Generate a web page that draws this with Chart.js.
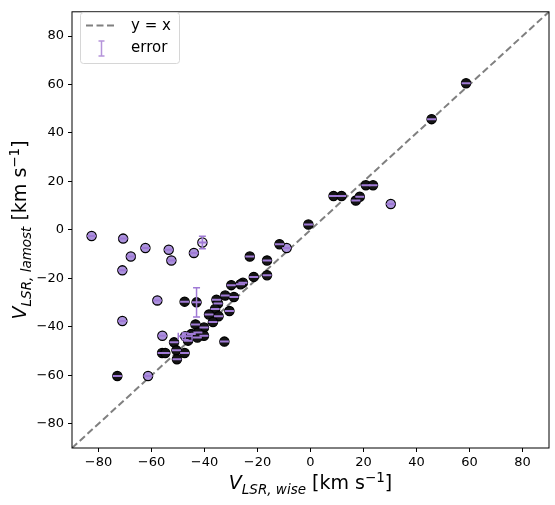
<!DOCTYPE html>
<html>
<head>
<meta charset="utf-8">
<script src="https://cdn.jsdelivr.net/npm/chart.js@4"></script>
<style>
  html, body { margin: 0; padding: 0; background: #fff; }
  #wrap { width: 555px; height: 505px; }
</style>
</head>
<body>
<div id="wrap"><canvas id="chart"></canvas></div>
<script>
// velocities (km/s)
const vWise = [
  -82.6, -70.7, -40.8, -67.8, -62.3, -53.5, -52.5, -44.0, -71.0, -57.8,
  -71.0, -55.9, -61.3, 30.3, -9.0, -47.3,
  -72.9, -47.5, -43.0, -22.9, -16.4, -21.4, -16.4, -25.5, -26.4, -29.9,
  -32.2, -28.9, -35.5, -34.9, -36.0, -38.3, -34.7, -30.6, -36.8, -43.4,
  -40.2, -42.5, -45.0, -40.2, -42.7, -46.2, -32.5, -51.5, -50.6, -56.0,
  -54.8, -47.5, -50.4, -11.7, -0.8, 8.7, 11.7, 17.1, 18.6, 20.9,
  23.6, 45.7, 58.7
];
const vLamost = [
  -2.5, -3.6, -5.2, -11.0, -7.5, -8.2, -12.6, -9.5, -16.7, -29.1,
  -37.6, -43.7, -60.3, 10.7, -7.5, -43.9,
  -60.3, -29.6, -29.9, -11.0, -12.6, -19.4, -18.7, -21.8, -22.4, -22.8,
  -27.1, -27.7, -28.8, -30.4, -32.6, -34.9, -35.6, -33.5, -38.0, -39.0,
  -40.3, -42.3, -43.0, -43.7, -44.4, -45.7, -46.1, -46.4, -49.7, -50.8,
  -50.8, -50.8, -53.4, -5.9, 2.2, 14.0, 14.0, 12.1, 13.7, 18.4,
  18.4, 45.7, 60.5
];
const errWise = [
  1.7, 1.7, 1.7, 1.7, 1.7, 1.7, 1.7, 1.7, 1.7, 1.7,
  1.7, 1.7, 1.7, 1.7, 1.7, 2.6,
  1.7, 1.7, 1.7, 1.7, 1.7, 1.7, 1.7, 1.7, 1.7, 1.7,
  1.7, 1.7, 1.7, 1.7, 1.7, 1.7, 1.7, 1.7, 1.7, 1.7,
  1.7, 1.7, 1.7, 1.7, 1.7, 1.7, 1.7, 1.7, 1.7, 1.7,
  1.7, 1.7, 1.7, 1.7, 1.7, 1.7, 1.7, 1.7, 1.7, 1.7,
  1.7, 1.7, 1.7
];
const errLamost = [
  0, 0, 2.6, 0, 0, 0, 0, 0, 0, 0,
  0, 0, 0, 0, 0, 1.4,
  0, 0, 6.0, 0, 0, 0, 0, 0, 0, 0,
  0, 0, 0, 0, 0, 0, 0, 0, 0, 0,
  0, 0, 0, 0, 0, 0, 0, 0, 0, 0,
  0, 0, 0, 0, 0, 0, 0, 0, 0, 0,
  0, 0, 0
];
// 0 = dark marker, 1 = purple marker, 2 = pale marker
const shade = [
  1, 1, 2, 1, 1, 1, 1, 1, 1, 1,
  1, 1, 1, 1, 1, 1,
  0, 0, 0, 0, 0, 0, 0, 0, 0, 0,
  0, 0, 0, 0, 0, 0, 0, 0, 0, 0,
  0, 0, 0, 0, 0, 0, 0, 0, 0, 0,
  0, 0, 0, 0, 0, 0, 0, 0, 0, 0,
  0, 0, 0
];
const diagX = [-90, 90];
const diagY = [-90, 90];
const xTicks = [-80, -60, -40, -20, 0, 20, 40, 60, 80];
const yTicks = [-80, -60, -40, -20, 0, 20, 40, 60, 80];

const shadeColors = ['#141414', '#ab92dc', '#e4daf2'];
const errColor = '#a07ad6';
const FONT = '"DejaVu Sans", sans-serif';

const points = vWise.map((x, i) => ({ x: x, y: vLamost[i] }));
const diag = diagX.map((x, i) => ({ x: x, y: diagY[i] }));

function fmt(v) {
  return String(v).replace('-', '\u2212');
}

// draw V_{sub} [km s^{-1}] centred on (0,0)
function drawMathLabel(ctx, sub) {
  const parts = [
    { t: 'V', size: 19, italic: true, dy: 0 },
    { t: sub, size: 13.5, italic: true, dy: 4.5 },
    { t: ' [km s', size: 19, italic: false, dy: 0 },
    { t: '\u22121', size: 13.5, italic: false, dy: -7.5 },
    { t: ']', size: 19, italic: false, dy: 0 }
  ];
  let total = 0;
  parts.forEach(p => {
    ctx.font = (p.italic ? 'italic ' : '') + p.size + 'px ' + FONT;
    p.w = ctx.measureText(p.t).width;
    total += p.w;
  });
  let x = -total / 2;
  ctx.textBaseline = 'alphabetic';
  ctx.textAlign = 'left';
  ctx.fillStyle = '#000';
  parts.forEach(p => {
    ctx.font = (p.italic ? 'italic ' : '') + p.size + 'px ' + FONT;
    ctx.fillText(p.t, x, 7 + p.dy);
    x += p.w;
  });
}

const extras = {
  id: 'extras',
  afterDatasetsDraw(chart) {
    const ctx = chart.ctx;
    const xs = chart.scales.x, ys = chart.scales.y;
    const area = chart.chartArea;

    // error bars
    ctx.save();
    ctx.beginPath();
    ctx.rect(area.left, area.top, area.right - area.left, area.bottom - area.top);
    ctx.clip();
    ctx.strokeStyle = errColor;
    vWise.forEach((x, i) => {
      const px = xs.getPixelForValue(x), py = ys.getPixelForValue(vLamost[i]);
      const x0 = xs.getPixelForValue(x - errWise[i]);
      const x1 = xs.getPixelForValue(x + errWise[i]);
      ctx.lineWidth = 2;
      ctx.beginPath();
      ctx.moveTo(x0, py); ctx.lineTo(x1, py);
      ctx.stroke();
      ctx.lineWidth = 1.5;
      if (errWise[i] > 2) {
        ctx.beginPath();
        ctx.moveTo(x0, py - 3.5); ctx.lineTo(x0, py + 3.5);
        ctx.moveTo(x1, py - 3.5); ctx.lineTo(x1, py + 3.5);
        ctx.stroke();
      }
      if (errLamost[i] > 0) {
        const y0 = ys.getPixelForValue(vLamost[i] - errLamost[i]);
        const y1 = ys.getPixelForValue(vLamost[i] + errLamost[i]);
        ctx.beginPath();
        ctx.moveTo(px, y0); ctx.lineTo(px, y1);
        ctx.moveTo(px - 3.5, y0); ctx.lineTo(px + 3.5, y0);
        ctx.moveTo(px - 3.5, y1); ctx.lineTo(px + 3.5, y1);
        ctx.stroke();
      }
    });
    ctx.restore();

    // frame
    ctx.save();
    ctx.strokeStyle = '#000';
    ctx.lineWidth = 1;
    ctx.strokeRect(area.left, area.top, area.right - area.left, area.bottom - area.top);
    ctx.restore();

    // legend
    ctx.save();
    const lx = 80.5, ly = 12.5, lw = 99, lh = 51, r = 3;
    ctx.beginPath();
    ctx.moveTo(lx + r, ly);
    ctx.arcTo(lx + lw, ly, lx + lw, ly + lh, r);
    ctx.arcTo(lx + lw, ly + lh, lx, ly + lh, r);
    ctx.arcTo(lx, ly + lh, lx, ly, r);
    ctx.arcTo(lx, ly, lx + lw, ly, r);
    ctx.closePath();
    ctx.fillStyle = 'rgba(255,255,255,0.8)';
    ctx.fill();
    ctx.strokeStyle = '#d6d6d6';
    ctx.lineWidth = 1;
    ctx.stroke();

    ctx.strokeStyle = '#808080';
    ctx.lineWidth = 2;
    ctx.setLineDash([7, 3.5]);
    ctx.beginPath();
    ctx.moveTo(86, 25.5); ctx.lineTo(117, 25.5);
    ctx.stroke();
    ctx.setLineDash([]);

    ctx.strokeStyle = '#b594da';
    ctx.lineWidth = 1.5;
    ctx.beginPath();
    ctx.moveTo(101.5, 41); ctx.lineTo(101.5, 56);
    ctx.moveTo(98.5, 41); ctx.lineTo(104.5, 41);
    ctx.moveTo(98.5, 56); ctx.lineTo(104.5, 56);
    ctx.stroke();

    ctx.fillStyle = '#000';
    ctx.font = '15px ' + FONT;
    ctx.textAlign = 'left';
    ctx.textBaseline = 'middle';
    ctx.fillText('y = x', 131, 26);
    ctx.fillText('error', 131, 48);
    ctx.restore();

    // axis titles
    ctx.save();
    ctx.translate((area.left + area.right) / 2, 482);
    drawMathLabel(ctx, 'LSR, wise');
    ctx.restore();

    ctx.save();
    ctx.translate(19, (area.top + area.bottom) / 2);
    ctx.rotate(-Math.PI / 2);
    drawMathLabel(ctx, 'LSR, lamost');
    ctx.restore();
  }
};

new Chart(document.getElementById('chart'), {
  data: {
    datasets: [
      {
        type: 'line',
        data: diag,
        borderColor: '#808080',
        borderWidth: 2,
        borderDash: [7, 3.5],
        pointRadius: 0,
        fill: false,
        order: 2
      },
      {
        type: 'scatter',
        data: points,
        pointRadius: 4.6,
        pointBackgroundColor: shade.map(s => shadeColors[s]),
        pointBorderColor: '#000',
        pointBorderWidth: 1.3,
        order: 1
      }
    ]
  },
  options: {
    responsive: true,
    maintainAspectRatio: false,
    animation: false,
    layout: { padding: { top: 3, right: 6, left: 0, bottom: 0 } },
    plugins: {
      legend: { display: false },
      tooltip: { enabled: false }
    },
    scales: {
      x: {
        type: 'linear',
        min: -90,
        max: 90,
        afterBuildTicks: s => { s.ticks = xTicks.map(v => ({ value: v })); },
        afterFit: s => { s.height = 57; },
        border: { display: false },
        grid: { drawOnChartArea: false, tickLength: 4, tickColor: '#000', tickWidth: 1 },
        ticks: {
          color: '#000',
          font: { family: FONT, size: 13 },
          padding: 3,
          maxRotation: 0,
          callback: v => fmt(v)
        }
      },
      y: {
        type: 'linear',
        min: -90,
        max: 90,
        afterBuildTicks: s => { s.ticks = yTicks.map(v => ({ value: v })); },
        afterFit: s => { s.width = 72; },
        border: { display: false },
        grid: { drawOnChartArea: false, tickLength: 4, tickColor: '#000', tickWidth: 1 },
        ticks: {
          color: '#000',
          font: { family: FONT, size: 13 },
          padding: 4,
          callback: v => fmt(v)
        }
      }
    }
  },
  plugins: [extras]
});
</script>
</body>
</html>
